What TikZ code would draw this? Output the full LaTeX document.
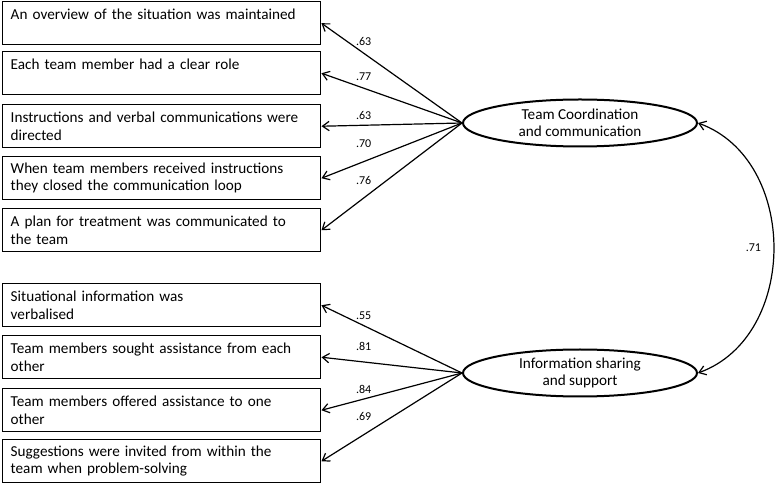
\documentclass[tikz,border=0pt]{standalone}
\usepackage{fontspec}
\setmainfont{Carlito}
\usetikzlibrary{arrows.meta}
\usetikzlibrary{shapes.geometric}

\tikzset{
  item/.style={draw, line width=1.1pt, anchor=north west, align=left,
    text width=226.5pt, inner xsep=6pt, inner ysep=3pt, minimum height=32.25pt,
    font=\fontsize{11.4}{12.9}\selectfont},
  factor/.style={draw, ellipse, line width=1.5pt, minimum width=175.5pt,
    minimum height=35.25pt, inner sep=0pt, align=center,
    font=\fontsize{11.4}{12.9}\selectfont},
  load/.style={-{Straight Barb[length=5pt, width=7pt]}, line width=0.9pt},
  lab/.style={above=3pt, font=\fontsize{9}{10.8}\selectfont, inner sep=1pt}
}

\begin{document}
\begin{tikzpicture}[x=0.75pt, y=-0.75pt]

\useasboundingbox (0,0) rectangle (778,484);

\node[item] (o1) at (2,1)   {An overview of the situation was maintained\\~};
\node[item] (o2) at (2,51)  {Each team member had a clear role\\~};
\node[item] (o3) at (2,104) {Instructions and verbal communications were\\directed};
\node[item] (o4) at (2,156) {When team members received instructions\\they closed the communication loop};
\node[item] (o5) at (2,208) {A plan for treatment was communicated to\\the team};

\node[item] (o6) at (2,283) {Situational information was\\verbalised};
\node[item] (o7) at (2,335) {Team members sought assistance from each\\other};
\node[item] (o8) at (2,388) {Team members offered assistance to one\\other};
\node[item] (o9) at (2,439) {Suggestions were invited from within the\\team when problem-solving};

\node[factor] (tcc) at (580,123) {Team Coordination\\and communication};
\node[factor] (iss) at (580,373) {Information sharing\\and support};

\draw[load] (tcc.west) -- node[lab, pos=0.7, above=1pt] {.63} (o1.east);
\draw[load] (tcc.west) -- node[lab, pos=0.7, above=1pt] {.77} (o2.east);
\draw[load] (tcc.west) -- node[lab, pos=0.7] {.63} (o3.east);
\draw[load] (tcc.west) -- node[lab, pos=0.7, above=6pt] {.70} (o4.east);
\draw[load] (tcc.west) -- node[lab, pos=0.7, above=6pt] {.76} (o5.east);

\draw[load] (iss.west) -- node[lab, pos=0.7] {.55} (o6.east);
\draw[load] (iss.west) -- node[lab, pos=0.7, above=4pt] {.81} (o7.east);
\draw[load] (iss.west) -- node[lab, pos=0.7] {.84} (o8.east);
\draw[load] (iss.west) -- node[lab, pos=0.7, above=6pt] {.69} (o9.east);

\draw[{Straight Barb[length=5pt, width=7pt]}-{Straight Barb[length=5pt, width=7pt]}, line width=0.9pt]
  (tcc.east) to[out=-20, in=20, looseness=1.1]
  node[left=8pt, font=\fontsize{9}{10.8}\selectfont, inner sep=1pt] {.71} (iss.east);

\end{tikzpicture}
\end{document}
